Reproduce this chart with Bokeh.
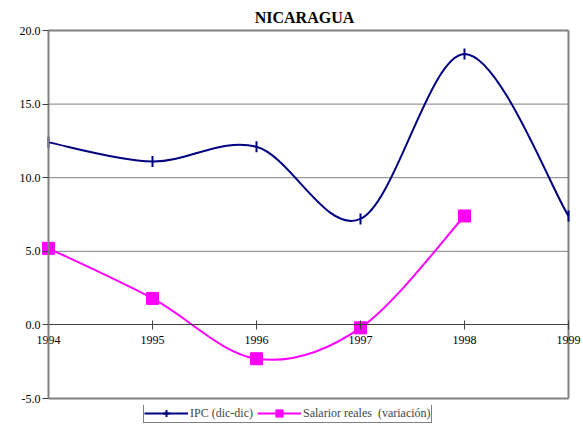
import numpy as np
from bokeh.plotting import figure
from bokeh.layouts import column
from bokeh.models import (Legend, LegendItem, ColumnDataSource, FixedTicker, Range1d,
                          NumeralTickFormatter, Label)
from bokeh.embed import file_html
from bokeh.resources import INLINE

years = [1994, 1995, 1996, 1997, 1998, 1999]
ipc = [12.4, 11.1, 12.1, 7.2, 18.4, 7.4]
sal_years = [1994, 1995, 1996, 1997, 1998]
salarios = [5.2, 1.8, -2.3, -0.2, 7.4]
x_tick_labels = ["1994", "1995", "1996", "1997", "1998", "1999"]
y_ticks = [-5, 0, 5, 10, 15, 20]
grid_ticks = [5, 10, 15]
series_names = ["IPC (dic-dic)", "Salarior reales  (variación)"]
title_text = "NICARAGUA"

SERIF = "Liberation Serif"
navy = "#000080"
magenta = "#FF00FF"
GRAY = "#808080"

# layout: plot box from x=48..568 px and y=30..398 px of a 583x405 canvas
W, H = 583, 405
BOX_L, BOX_R, BOX_T, BOX_B = 48, 568, 30, 398
x_lo, x_hi = years[0], years[-1]
y_lo, y_hi = y_ticks[0], y_ticks[-1]
px_x = (BOX_R - BOX_L) / (x_hi - x_lo)
px_y = (BOX_B - BOX_T) / (y_hi - y_lo)
x_range = Range1d(x_lo - BOX_L / px_x, x_hi + (W - BOX_R) / px_x)
y_range = Range1d(y_lo - (H - BOX_B) / px_y, y_hi + BOX_T / px_y)


def bezier_source(xs, ys):
    x = np.asarray(xs, float)
    y = np.asarray(ys, float)
    n = len(x)
    xp = np.concatenate([[x[0]], x, [x[-1]]])
    yp = np.concatenate([[y[0]], y, [y[-1]]])
    d = dict(x0=[], y0=[], x1=[], y1=[], cx0=[], cy0=[], cx1=[], cy1=[])
    for i in range(n - 1):
        j = i + 1
        d["x0"].append(x[i]); d["y0"].append(y[i])
        d["x1"].append(x[i + 1]); d["y1"].append(y[i + 1])
        d["cx0"].append(x[i] + (xp[j + 1] - xp[j - 1]) / 6)
        d["cy0"].append(y[i] + (yp[j + 1] - yp[j - 1]) / 6)
        d["cx1"].append(x[i + 1] - (xp[j + 2] - xp[j]) / 6)
        d["cy1"].append(y[i + 1] - (yp[j + 2] - yp[j]) / 6)
    return ColumnDataSource(d)


p = figure(width=W, height=H, output_backend="svg", toolbar_location=None,
           x_range=x_range, y_range=y_range,
           min_border_left=0, min_border_right=0, min_border_top=0, min_border_bottom=0)

p.outline_line_color = None
p.background_fill_color = "white"
p.border_fill_color = "white"
p.xgrid.visible = False
p.ygrid.visible = False

# title
p.add_layout(Label(x=(x_lo + x_hi) / 2, y=y_hi, y_offset=13, x_offset=-4, text=title_text,
                   text_font=SERIF, text_font_style="bold", text_font_size="16px",
                   text_align="center", text_baseline="middle", text_color="#000000"))

# grid lines and plot box
p.segment(x0=[x_lo] * len(grid_ticks), x1=[x_hi] * len(grid_ticks), y0=grid_ticks, y1=grid_ticks,
          line_color=GRAY, line_width=1)
p.segment(x0=[x_lo, x_lo, x_hi], x1=[x_hi, x_hi, x_hi], y0=[y_hi, y_lo, y_lo], y1=[y_hi, y_lo, y_hi],
          line_color=GRAY, line_width=2)

# x axis crossing at y = 0
p.xaxis.fixed_location = 0
p.xaxis.bounds = (x_lo, x_hi)
p.xaxis.ticker = FixedTicker(ticks=years)
p.xaxis.major_label_overrides = {yr: t for yr, t in zip(years, x_tick_labels)}
p.xaxis.major_label_text_font = SERIF
p.xaxis.major_label_text_font_size = "12px"
p.xaxis.major_label_text_color = "#000000"
p.xaxis.axis_line_color = "#404040"
p.xaxis.axis_line_width = 1
p.xaxis.major_tick_line_color = "#404040"
p.xaxis.major_tick_in = 4
p.xaxis.major_tick_out = 5
p.xaxis.minor_tick_line_color = None
p.xaxis.major_label_standoff = 6

# y axis at the left edge of the box
p.yaxis.fixed_location = x_lo
p.yaxis.bounds = (y_lo, y_hi)
p.yaxis.ticker = FixedTicker(ticks=y_ticks)
p.yaxis.formatter = NumeralTickFormatter(format="0.0")
p.yaxis.major_label_text_font = SERIF
p.yaxis.major_label_text_font_size = "12px"
p.yaxis.major_label_text_color = "#000000"
p.yaxis.axis_line_color = GRAY
p.yaxis.axis_line_width = 2
p.yaxis.major_tick_line_color = "#404040"
p.yaxis.major_tick_in = 0
p.yaxis.major_tick_out = 6
p.yaxis.minor_tick_line_color = None
p.yaxis.major_label_standoff = 2

p.bezier(x0="x0", y0="y0", x1="x1", y1="y1", cx0="cx0", cy0="cy0", cx1="cx1", cy1="cy1",
         source=bezier_source(years, ipc), line_color=navy, line_width=2)
p.scatter(x=years, y=ipc, marker="dash", angle=np.pi / 2, size=11,
          line_color=navy, line_width=2)

p.bezier(x0="x0", y0="y0", x1="x1", y1="y1", cx0="cx0", cy0="cy0", cx1="cx1", cy1="cy1",
         source=bezier_source(sal_years, salarios), line_color=magenta, line_width=2)
p.scatter(x=sal_years, y=salarios, marker="square", size=12,
          fill_color=magenta, line_color=magenta)

# legend strip below the chart (series drawn out of its view; only the legend shows)
lg = figure(width=W, height=21, output_backend="svg", toolbar_location=None,
            x_range=Range1d(0, 1), y_range=Range1d(0, 1),
            min_border_left=0, min_border_right=0, min_border_top=0, min_border_bottom=0)
lg.axis.visible = False
lg.grid.visible = False
lg.outline_line_color = None
l1 = lg.line(x=years, y=ipc, line_color=navy, line_width=2)
s1 = lg.scatter(x=years, y=ipc, marker="cross", size=11, line_color=navy, line_width=2)
l2 = lg.line(x=sal_years, y=salarios, line_color=magenta, line_width=2)
s2 = lg.scatter(x=sal_years, y=salarios, marker="square", size=12, fill_color=magenta, line_color=magenta)

legend = Legend(items=[LegendItem(label=series_names[0], renderers=[l1, s1]),
                       LegendItem(label=series_names[1], renderers=[l2, s2])],
                orientation="horizontal", location=(143, 3))
legend.label_text_font = SERIF
legend.label_text_font_size = "12px"
legend.label_height = 18
legend.glyph_height = 18
legend.glyph_width = 44
legend.label_standoff = 2
legend.spacing = 4
legend.padding = 0
legend.margin = 0
legend.border_line_color = "#000000"
legend.border_line_width = 1
legend.background_fill_color = "white"
legend.background_fill_alpha = 1
lg.add_layout(legend, "center")

layout = column(p, lg, spacing=0)
open("out.html", "w").write(file_html(layout, INLINE))
